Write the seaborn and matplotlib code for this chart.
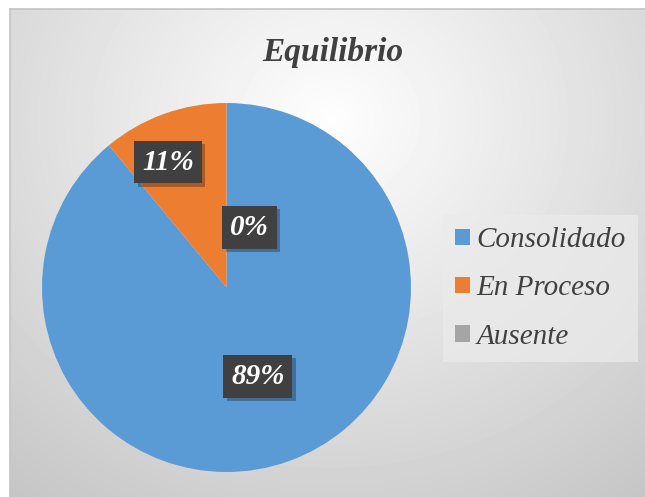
import numpy as np
import matplotlib
matplotlib.use('Agg')
import matplotlib.pyplot as plt
import matplotlib.patheffects as pe
from matplotlib.patches import Patch
import seaborn as sns

# data
categories = ['Consolidado', 'En Proceso', 'Ausente']
values = [89, 11, 0]
pct_labels = ['89%', '11%', '0%']
colors = ['#5B9BD5', '#ED7D31', '#A5A5A5']
# label placement (angle in degrees, distance as fraction of radius)
label_pos = [(-70.6, 0.51), (115.0, 0.75), (69.0, 0.35)]

sns.set_style('white')
plt.rcParams['font.family'] = ['Liberation Serif', 'DejaVu Serif']

W, H = 645, 497
fig = plt.figure(figsize=(W / 100, H / 100), dpi=100)
fig.patch.set_facecolor('white')

# --------- chart area with radial gradient ---------
bg = fig.add_axes([10 / W, 0, (W - 10) / W, (H - 9) / H])
yy, xx = np.mgrid[0:488, 0:635]
r = np.sqrt(((xx - 320) / 520.0) ** 2 + ((yy - 110) / 470.0) ** 2)
shade = 0.995 - 0.22 * np.clip(r, 0, 1)
bg.imshow(shade, cmap='gray', vmin=0, vmax=1, aspect='auto', interpolation='bilinear')
bg.set_xticks([])
bg.set_yticks([])
for side in ['right', 'bottom']:
    bg.spines[side].set_visible(False)
for side in ['left', 'top']:
    bg.spines[side].set_color('#C4C4C4')
    bg.spines[side].set_linewidth(1.2)

# --------- pie ---------
cx, cy, rad = 226.5, H - 287.5, 184.5
ax = fig.add_axes([(cx - rad) / W, (cy - rad) / H, 2 * rad / W, 2 * rad / H])
ax.pie(values, colors=colors, startangle=90, counterclock=False,
       radius=1, wedgeprops=dict(linewidth=0))
ax.set_xlim(-1, 1)
ax.set_ylim(-1, 1)
ax.set_aspect('equal')
ax.axis('off')

for txt, (ang, dist) in zip(pct_labels, label_pos):
    x = dist * np.cos(np.radians(ang))
    y = dist * np.sin(np.radians(ang))
    t = ax.text(x, y, txt, ha='center', va='center', fontsize=21,
                weight='bold', style='italic', color='white',
                bbox=dict(boxstyle='square,pad=0.27', fc='#404040', ec='none'))
    t.get_bbox_patch().set_path_effects([
        pe.SimplePatchShadow(offset=(2.5, -2.5), shadow_rgbFace='black', alpha=0.28),
        pe.Normal()])

# --------- title ---------
fig.text(333 / W, 1 - 52 / H, 'Equilibrio', ha='center', va='center', fontsize=24,
         weight='bold', style='italic', color='#404040')

# --------- legend ---------
handles = [Patch(facecolor=c, edgecolor='none') for c in colors]
leg = fig.legend(handles, categories, loc='upper left',
                 bbox_to_anchor=(443 / W, 1 - 215 / H), borderaxespad=0,
                 prop=dict(family='Liberation Serif', style='italic', size=21),
                 handlelength=0.5, handleheight=0.5, handletextpad=0.22,
                 labelspacing=0.76, borderpad=0.42, frameon=True, fancybox=False)
leg.get_frame().set_facecolor('#EBEBEB')
leg.get_frame().set_alpha(0.75)
leg.get_frame().set_edgecolor('none')
for t in leg.get_texts():
    t.set_color('#404040')

fig.savefig('out.png', dpi=100)
